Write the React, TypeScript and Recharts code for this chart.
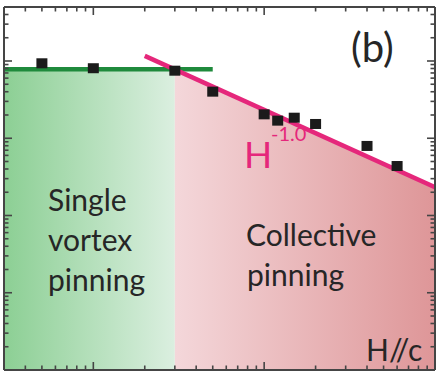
import { Area, ComposedChart, Line, ReferenceArea, Scatter, XAxis, YAxis } from "recharts";

const W = 440;
const H = 372;
const FRAME = "#454545";
const INK = "#262626";
const PINK = "#e5277b";
const GREEN = "#1f8a3c";
const FONT = "Lato, 'Open Sans', sans-serif";

// measured points: field H//c (T) vs Jc
const fieldH = [0.5, 1, 3, 5, 10, 12, 15, 20, 40, 60];
const jc = [9340, 8060, 7490, 4010, 2040, 1690, 1845, 1530, 795, 437];

// flat fit (single vortex) and H^-1 fit (collective)
const singleFitH = [0.3, 5];
const singleFitJc = [7820, 7820];
const collectiveFitH = [2, 100];
const collectiveFitJc = [11650, 233];

// shaded regimes
const singleZoneH = [0.3, 3];
const singleZoneTop = 7820;
const collectiveZoneH = [3, 100];
const collectiveZoneJc = [7770, 233];

const xTicks = [
  0.3, 0.4, 0.5, 0.6, 0.7, 0.8, 0.9, 1, 2, 3, 4, 5, 6, 7, 8, 9, 10, 20, 30, 40, 50, 60, 70, 80, 90, 100,
];
const xMajor = [1, 10, 100];
const yTicks = [
  1, 2, 3, 4, 5, 6, 7, 8, 9, 10, 20, 30, 40, 50, 60, 70, 80, 90, 100, 200, 300, 400, 500, 600, 700, 800, 900,
  1000, 2000, 3000, 4000, 5000, 6000, 7000, 8000, 9000, 10000, 20000, 30000, 40000, 50000,
];
const yMajor = [1, 10, 100, 1000, 10000];

const pairs = (xs: number[], ys: number[]) => xs.map((x, i) => ({ x, y: ys[i] }));

type Side = "top" | "bottom" | "left" | "right";

/** inward tick marks, long on decades */
function tickMark(side: Side, majors: number[]) {
  return (p: any) => {
    const len = majors.includes(p.payload.value) ? 8 : 4.5;
    const x = Number(p.x);
    const y = Number(p.y);
    const [x2, y2] =
      side === "bottom" ? [x, y - len] : side === "top" ? [x, y + len] : side === "left" ? [x + len, y] : [x - len, y];
    return <line x1={x} y1={y} x2={x2} y2={y2} stroke={FRAME} strokeWidth={1.6} />;
  };
}

const squareDot = (p: any) => <rect x={p.cx - 5.5} y={p.cy - 5} width={11} height={10} fill="#1b1b1b" />;

const axisCommon = {
  type: "number" as const,
  scale: "log" as const,
  allowDataOverflow: true,
  interval: 0 as const,
  tickSize: 0,
  tickMargin: 0,
  tickLine: false,
  axisLine: { stroke: FRAME, strokeWidth: 2 },
};

export default function App() {
  const points = pairs(fieldH, jc);
  const singleFit = pairs(singleFitH, singleFitJc);
  const collectiveFit = pairs(collectiveFitH, collectiveFitJc);
  const collectiveZone = pairs(collectiveZoneH, collectiveZoneJc);
  const label = { fontFamily: FONT, fill: INK, fontSize: 30 };

  return (
    <div style={{ position: "absolute", left: 0, top: 0, width: W, height: H, background: "#fff" }}>
      <ComposedChart width={W} height={H} margin={{ top: 6, right: 4, bottom: 1, left: 3 }}>
        <defs>
          <linearGradient id="greenZone" x1="0" y1="0" x2="1" y2="0">
            <stop offset="0%" stopColor="#8ccf94" />
            <stop offset="100%" stopColor="#dbefe0" />
          </linearGradient>
          <linearGradient id="pinkZone" x1="0" y1="0" x2="1" y2="0">
            <stop offset="0%" stopColor="#f4d7da" />
            <stop offset="100%" stopColor="#de9698" />
          </linearGradient>
        </defs>
        <XAxis {...axisCommon} dataKey="x" domain={[0.3, 100]} ticks={xTicks} height={1} tick={tickMark("bottom", xMajor)} />
        <XAxis
          {...axisCommon}
          xAxisId="top"
          orientation="top"
          dataKey="x"
          domain={[0.3, 100]}
          ticks={xTicks}
          height={1}
          tick={tickMark("top", xMajor)}
        />
        <YAxis {...axisCommon} dataKey="y" domain={[1, 50000]} ticks={yTicks} width={1} tick={tickMark("left", yMajor)} />
        <YAxis
          {...axisCommon}
          yAxisId="right"
          orientation="right"
          dataKey="y"
          domain={[1, 50000]}
          ticks={yTicks}
          width={1}
          tick={tickMark("right", yMajor)}
        />
        <ReferenceArea
          x1={singleZoneH[0]}
          x2={singleZoneH[1]}
          y1={1}
          y2={singleZoneTop}
          fill="url(#greenZone)"
          fillOpacity={1}
          stroke="none"
        />
        <Area
          data={collectiveZone}
          dataKey="y"
          type="linear"
          baseValue={1}
          stroke="none"
          fill="url(#pinkZone)"
          fillOpacity={1}
          isAnimationActive={false}
        />
        <Scatter data={points} dataKey="y" shape={squareDot} isAnimationActive={false} />
        <Line data={singleFit} dataKey="y" type="linear" stroke={GREEN} strokeWidth={4.5} dot={false} isAnimationActive={false} />
        <Line data={collectiveFit} dataKey="y" type="linear" stroke={PINK} strokeWidth={4.5} dot={false} isAnimationActive={false} />
      </ComposedChart>
      <svg width={W} height={H} style={{ position: "absolute", left: 0, top: 0, pointerEvents: "none" }}>
        <text x={351} y={62} fontFamily={FONT} fontSize={40} fill={INK}>
          (b)
        </text>
        <text {...label} x={48} y={211}>Single</text>
        <text {...label} x={48} y={251}>vortex</text>
        <text {...label} x={48} y={291}>pinning</text>
        <text {...label} x={246} y={246}>Collective</text>
        <text {...label} x={247} y={286}>pinning</text>
        <text {...label} x={366} y={361}>H//c</text>
        <text x={244} y={168} fontFamily={FONT} fontSize={37} fill={PINK}>H</text>
        <text x={271} y={141} fontFamily={FONT} fontSize={20} fill={PINK}>-1.0</text>
      </svg>
    </div>
  );
}
